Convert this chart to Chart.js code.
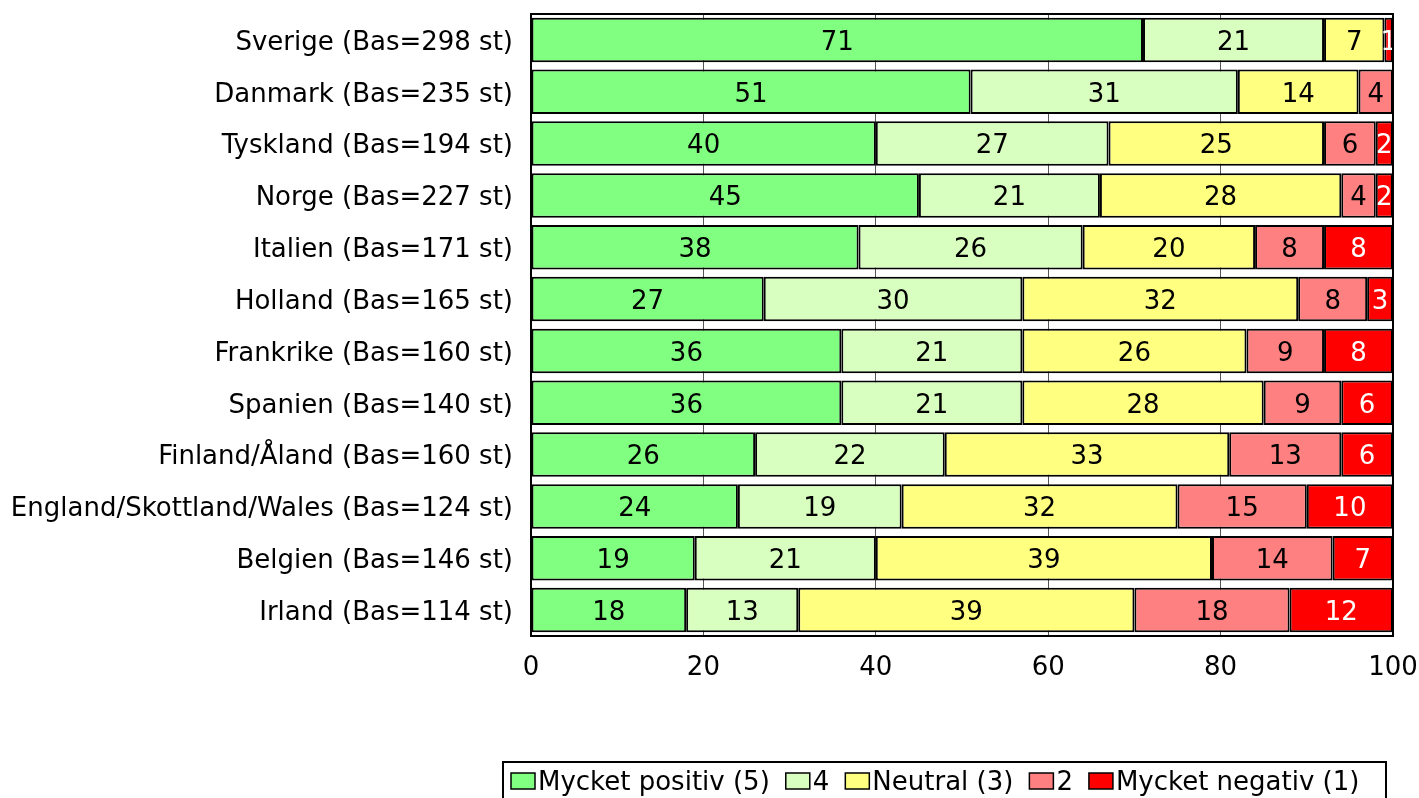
<!DOCTYPE html>
<html>
<head>
<meta charset="utf-8">
<script src="https://cdn.jsdelivr.net/npm/chart.js@4.4.1/dist/chart.umd.min.js"></script>
<style>
  html, body { margin: 0; padding: 0; background: #fff; overflow: hidden; }
  #chart { display: block; }
</style>
</head>
<body>
<canvas id="chart" width="1419" height="798"></canvas>
<script>
const countries = [
  "Sverige (Bas=298 st)",
  "Danmark (Bas=235 st)",
  "Tyskland (Bas=194 st)",
  "Norge (Bas=227 st)",
  "Italien (Bas=171 st)",
  "Holland (Bas=165 st)",
  "Frankrike (Bas=160 st)",
  "Spanien (Bas=140 st)",
  "Finland/Åland (Bas=160 st)",
  "England/Skottland/Wales (Bas=124 st)",
  "Belgien (Bas=146 st)",
  "Irland (Bas=114 st)",
];
const seriesNames = ["Mycket positiv (5)", "4", "Neutral (3)", "2", "Mycket negativ (1)"];
const positiv5 = [71, 51, 40, 45, 38, 27, 36, 36, 26, 24, 19, 18];
const fyra     = [21, 31, 27, 21, 26, 30, 21, 21, 22, 19, 21, 13];
const neutral3 = [7, 14, 25, 28, 20, 32, 26, 28, 33, 32, 39, 39];
const tva      = [0, 4, 6, 4, 8, 8, 9, 9, 13, 15, 14, 18];
const negativ1 = [1, 0, 2, 2, 8, 3, 8, 6, 6, 10, 7, 12];
const xTicks = [0, 20, 40, 60, 80, 100];

const colors = ["#80FF80", "#D9FFC0", "#FFFF80", "#FF8080", "#FF0000"];
const labelColors = ["#000", "#000", "#000", "#000", "#fff"];
const FONT = "DejaVu Sans, Verdana, sans-serif";
const FSIZE = 26;

const values = [positiv5, fyra, neutral3, tva, negativ1];

// value labels in the middle of each segment
const valueLabels = {
  id: "valueLabels",
  afterDatasetsDraw(chart) {
    const ctx = chart.ctx;
    ctx.save();
    ctx.font = FSIZE + "px " + FONT;
    ctx.textAlign = "center";
    ctx.textBaseline = "middle";
    chart.data.datasets.forEach((ds, i) => {
      const meta = chart.getDatasetMeta(i);
      meta.data.forEach((bar, j) => {
        const v = ds.data[j];
        if (!v) return;
        ctx.fillStyle = labelColors[i];
        ctx.fillText(String(v), (bar.x + bar.base) / 2, bar.y + 3);
      });
    });
    ctx.restore();
  },
};

// plot frame and legend box
const frameAndLegend = {
  id: "frameAndLegend",
  afterDraw(chart) {
    const ctx = chart.ctx;
    const a = chart.chartArea;
    ctx.save();
    ctx.strokeStyle = "#000";
    ctx.lineWidth = 2;
    ctx.strokeRect(a.left, a.top, a.right - a.left, a.bottom - a.top);

    // legend
    const top = 762;
    ctx.lineWidth = 2;
    ctx.strokeRect(503, top, 1386 - 503, 60);
    ctx.font = FSIZE + "px " + FONT;
    ctx.textBaseline = "middle";
    ctx.textAlign = "left";
    let x = 511;
    const cy = 781;
    seriesNames.forEach((name, i) => {
      ctx.fillStyle = colors[i];
      ctx.fillRect(x, cy - 8, 24, 16);
      ctx.lineWidth = 1.5;
      ctx.strokeStyle = "#000";
      ctx.strokeRect(x, cy - 8, 24, 16);
      ctx.fillStyle = "#000";
      ctx.fillText(name, x + 27, cy + 2);
      x += 27 + ctx.measureText(name).width + 16;
    });
    ctx.restore();
  },
};

new Chart(document.getElementById("chart"), {
  type: "bar",
  data: {
    labels: countries,
    datasets: seriesNames.map((name, i) => ({
      label: name,
      data: values[i],
      backgroundColor: colors[i],
      borderColor: "#000",
      borderWidth: 2,
      borderSkipped: false,
      barPercentage: 0.86,
      categoryPercentage: 1,
    })),
  },
  options: {
    indexAxis: "y",
    responsive: false,
    animation: false,
    layout: { padding: { top: 14, right: 26, left: 0, bottom: 0 } },
    plugins: {
      legend: { display: false },
      tooltip: { enabled: false },
    },
    scales: {
      x: {
        stacked: true,
        min: 0,
        max: 100,
        afterBuildTicks: (s) => { s.ticks = xTicks.map((v) => ({ value: v })); },
        grid: { color: "#555", lineWidth: 1, drawTicks: false },
        border: { display: false },
        ticks: { color: "#000", font: { family: FONT, size: FSIZE }, padding: 17, maxRotation: 0 },
        afterFit: (s) => {
          s.height = 798 - 636;
          s.paddingLeft = 0;
          s.paddingRight = 0;
        },
      },
      y: {
        stacked: true,
        grid: { display: false, drawTicks: false },
        border: { display: false },
        ticks: { color: "#000", font: { family: FONT, size: FSIZE }, padding: 18, labelOffset: 3 },
        afterFit: (s) => {
          s.width = 531;
          s.paddingTop = 0;
          s.paddingBottom = 0;
        },
      },
    },
  },
  plugins: [valueLabels, frameAndLegend],
});
</script>
</body>
</html>
